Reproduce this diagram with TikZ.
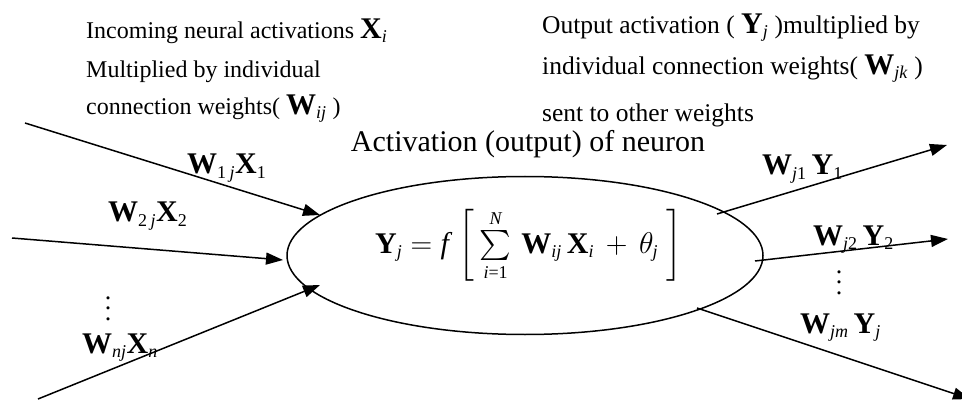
\RequirePackage{fix-cm}
\documentclass[tikz,border=0pt]{standalone}
\usepackage{graphicx}
\usepackage{fontspec}
\setmainfont{Liberation Serif}
\DeclareFontShape{OMX}{cmex}{m}{n}{<->cmex10}{}
\usetikzlibrary{arrows.meta,shapes.geometric}
\newcommand{\bW}{\textnormal{\fontsize{30}{30}\selectfont\bfseries W}}
\newcommand{\bX}{\textnormal{\fontsize{30}{30}\selectfont\bfseries X}}
\newcommand{\bY}{\textnormal{\fontsize{30}{30}\selectfont\bfseries Y}}
\newcommand{\subi}[1]{\textnormal{\fontsize{18}{18}\selectfont\itshape #1}}
\newcommand{\subn}[1]{\textnormal{\fontsize{18}{18}\selectfont #1}}
\newcommand{\mydots}{\scalebox{2.6}{$\vdots$}}
\begin{document}
\begin{tikzpicture}[x=1pt,y=-1pt,
  conn/.style={line width=1.5pt},
  arr/.style={conn,-{Triangle[length=17pt,width=12pt]}},
  noteL/.style={font=\fontsize{24}{28}\selectfont,anchor=base west,inner sep=0pt},
  noteR/.style={font=\fontsize{25.5}{28}\selectfont,anchor=base west,inner sep=0pt},
  wlab/.style={font=\fontsize{30}{32}\selectfont,anchor=base west,inner sep=0pt}]
\useasboundingbox (0,0) rectangle (962,401);
\node[draw,line width=1.5pt,ellipse,minimum width=476pt,minimum height=158pt,inner sep=0pt] (neuron) at (525,255.5) {};
\node[font=\fontsize{30}{32}\selectfont,inner sep=0pt,anchor=base west] (eq) at (375,253)
  {$\bY_{\subi{j}}=\textnormal{\itshape f}\,\left[\,\sum\limits_{\subi{i}\subn{=1}}^{\subi{N}}\,\bW_{\subi{ij}}\,\bX_{\subi{i}}\,+\,\theta_{\subi{j}}\;\right]$};
\node[font=\fontsize{30}{32}\selectfont,inner sep=0pt,anchor=base] (act) at (528,152) {Activation (output) of neuron};
% notes
\node[noteL] (n1) at (86,39) {Incoming neural activations $\bX_{\subi{i}}$};
\node[noteL] (n2) at (86,78) {Multiplied by individual};
\node[noteL] (n3) at (86,115) {connection weights( $\bW_{\subi{ij}}$ )};
\node[noteR] (m1) at (542,34) {Output activation ( $\bY_{\subi{j}}$ )multiplied by};
\node[noteR] (m2) at (542,75) {individual connection weights( $\bW_{\subi{jk}}$ )};
\node[noteR] (m3) at (542,122) {sent to other weights};
% coordinates
\coordinate (a1) at (25,123);  \coordinate (b1) at (320,215);
\coordinate (a2) at (12,238);  \coordinate (b2) at (283,260);
\coordinate (a3) at (38,399);  \coordinate (b3) at (320,285);
\coordinate (c1) at (717,214); \coordinate (d1) at (947,145);
\coordinate (c2) at (755,261); \coordinate (d2) at (948,239);
\coordinate (c3) at (697,308); \coordinate (d3) at (970,399);
\draw[arr] (a1) -- (b1);
\draw[arr] (a2) -- (b2);
\draw[arr] (a3) -- (b3);
\draw[arr] (c1) -- (d1);
\draw[arr] (c2) -- (d2);
\draw[arr] (c3) -- (d3);
% labels
\node[wlab] (l1) at (187,174) {$\bW_{\subn{1}\,\subi{j}}\bX_{\subn{1}}$};
\node[wlab] (l2) at (108,222) {$\bW_{\subn{2}\,\subi{j}}\bX_{\subn{2}}$};
\node[inner sep=0pt] (v1) at (108,301) {\mydots};
\node[wlab] (l3) at (82,353) {$\bW_{\subi{nj}}\bX_{\subi{n}}$};
\node[wlab] (r1) at (762,175) {$\bW_{\subi{j}\subn{1}}\,\bY_{\subn{1}}$};
\node[wlab] (r2) at (813,245) {$\bW_{\subi{j}\subn{2}}\,\bY_{\subn{2}}$};
\node[inner sep=0pt] (v2) at (839,275) {\mydots};
\node[wlab] (r3) at (800,333) {$\bW_{\subi{jm}}\,\bY_{\subi{j}}$};
\end{tikzpicture}
\end{document}
